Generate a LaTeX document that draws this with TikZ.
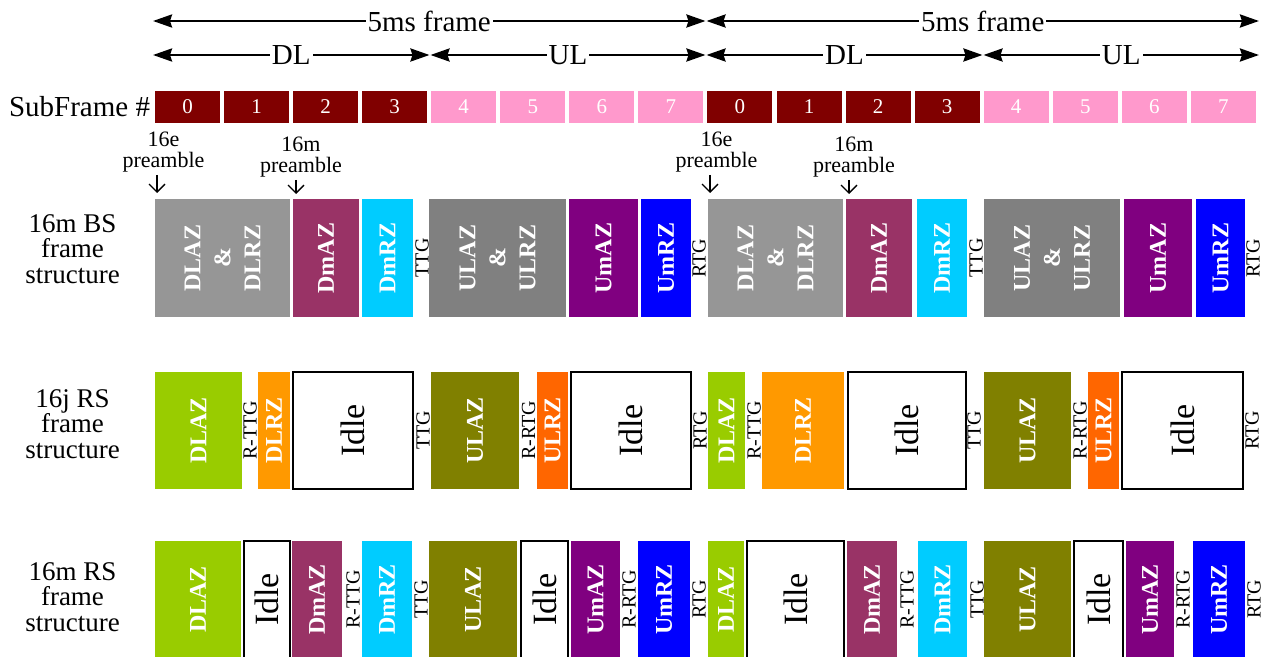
\documentclass[tikz,border=0pt]{standalone}
\usepackage{fontspec}
\setmainfont{Liberation Serif}
\usetikzlibrary{arrows.meta}
\definecolor{sfdl}{HTML}{800000}
\definecolor{sful}{HTML}{FF99CC}
\definecolor{gA}{HTML}{969696}
\definecolor{gB}{HTML}{808080}
\definecolor{dmaz}{HTML}{993366}
\definecolor{dmrz}{HTML}{00CCFF}
\definecolor{umaz}{HTML}{800080}
\definecolor{umrz}{HTML}{0000FF}
\definecolor{dlaz}{HTML}{99CC00}
\definecolor{dlrz}{HTML}{FF9900}
\definecolor{ulaz}{HTML}{808000}
\definecolor{ulrz}{HTML}{FF6600}
% name x1 x2 y1 y2 boxstyle textstyle text
\newcommand\zoneblk[8]{%
  \node[#6, minimum width={(#3-#2)*1bp}, minimum height={(#5-#4)*1bp}] (#1) at ({(#2+#3)/2},{(#4+#5)/2}) {};
  \node[#7] (#1t) at (#1.center) {#8};}
\newcommand\gaplbl[4]{\node[gtxt] (#1) at (#2,#3) {#4};}
\begin{document}
\begin{tikzpicture}[x=1bp,y=-1bp,
  every node/.style={inner sep=0pt, outer sep=0pt},
  big/.style={font=\fontsize{29bp}{31bp}\selectfont},
  dim/.style={line width=2.6bp, {Stealth[length=19bp,width=13bp,inset=2bp]}-{Stealth[length=19bp,width=13bp,inset=2bp]}},
  dimlbl/.style={big, fill=white, inner xsep=2bp, inner ysep=1bp},
  sfbox/.style={minimum width=65bp, minimum height=32bp, text=white, font=\fontsize{21bp}{22bp}\selectfont},
  pre/.style={align=center, font=\fontsize{22bp}{21bp}\selectfont},
  prearr/.style={line width=1.3bp, -{Straight Barb[length=8bp,width=16bp]}},
  rowlbl/.style={align=center, font=\fontsize{27bp}{25.5bp}\selectfont},
  idle/.style={draw=black, line width=1.1bp, fill=white},
  ztxt/.style={rotate=90, text=white, font=\bfseries\fontsize{24bp}{30bp}\selectfont, align=center},
  itxt/.style={rotate=90, text=black, font=\fontsize{34bp}{36bp}\selectfont},
  gtxt/.style={rotate=90, font=\fontsize{20bp}{21bp}\selectfont},
]
\useasboundingbox (0,0) rectangle (1281,657);

% dimension arrows
\coordinate (fA) at (153,21); \coordinate (fB) at (705.5,21);
\coordinate (fC) at (706.5,21); \coordinate (fD) at (1259,21);
\draw[dim] (fA) -- node[dimlbl] (lf1) {5ms frame} (fB);
\draw[dim] (fC) -- node[dimlbl] (lf2) {5ms frame} (fD);
\coordinate (dA) at (153,55); \coordinate (dB) at (429.5,55);
\coordinate (uA) at (430.5,55); \coordinate (uB) at (705.5,55);
\coordinate (dC) at (706.5,55); \coordinate (dD) at (982.5,55);
\coordinate (uC) at (983.5,55); \coordinate (uD) at (1259,55);
\draw[dim] (dA) -- node[dimlbl] (ldl1) {DL} (dB);
\draw[dim] (uA) -- node[dimlbl] (lul1) {UL} (uB);
\draw[dim] (dC) -- node[dimlbl] (ldl2) {DL} (dD);
\draw[dim] (uC) -- node[dimlbl] (lul2) {UL} (uD);

% subframes
\node[big, anchor=east] (sflbl) at (150,107) {SubFrame \#};
\foreach \i in {0,...,15}{
  \pgfmathtruncatemacro\n{mod(\i,8)}
  \pgfmathsetmacro\cx{187.5+69.06*\i}
  \ifnum\n<4 \def\sfc{sfdl}\else\def\sfc{sful}\fi
  \node[sfbox, fill=\sfc] (sf\i) at (\cx,107) {\n};
}

% preambles
\node[pre] (p1) at (163.5,152) {16e\\preamble};
\node[pre] (p2) at (301,157) {16m\\preamble};
\node[pre] (p3) at (716.5,152) {16e\\preamble};
\node[pre] (p4) at (854,157) {16m\\preamble};
\coordinate (p1a) at (157,175); \coordinate (p1b) at (157,193);
\coordinate (p2a) at (296,180); \coordinate (p2b) at (296,194);
\coordinate (p3a) at (710,175); \coordinate (p3b) at (710,193);
\coordinate (p4a) at (849,180); \coordinate (p4b) at (849,194);
\draw[prearr] (p1a) -- (p1b);
\draw[prearr] (p2a) -- (p2b);
\draw[prearr] (p3a) -- (p3b);
\draw[prearr] (p4a) -- (p4b);

% row labels
\node[rowlbl] (lbs) at (72.5,249) {16m BS\\frame\\structure};
\node[rowlbl] (lrj) at (72.5,424) {16j RS\\frame\\structure};
\node[rowlbl] (lrm) at (72.5,597) {16m RS\\frame\\structure};

% 16m BS
\zoneblk{bs1}{155}{290}{199}{317}{fill=gA}{ztxt}{DLAZ\\\&\\DLRZ}
\zoneblk{bs2}{293}{359}{199}{317}{fill=dmaz}{ztxt}{DmAZ}
\zoneblk{bs3}{362}{413}{199}{317}{fill=dmrz}{ztxt}{DmRZ}
\gaplbl{bsg1}{422}{258}{TTG}
\zoneblk{bs4}{429}{566}{199}{317}{fill=gB}{ztxt}{ULAZ\\\&\\ULRZ}
\zoneblk{bs5}{569}{638}{199}{317}{fill=umaz}{ztxt}{UmAZ}
\zoneblk{bs6}{641}{691}{199}{317}{fill=umrz}{ztxt}{UmRZ}
\gaplbl{bsg2}{699}{258}{RTG}
\zoneblk{bs7}{708}{843}{199}{317}{fill=gA}{ztxt}{DLAZ\\\&\\DLRZ}
\zoneblk{bs8}{846}{912}{199}{317}{fill=dmaz}{ztxt}{DmAZ}
\zoneblk{bs9}{917}{967}{199}{317}{fill=dmrz}{ztxt}{DmRZ}
\gaplbl{bsg3}{976}{258}{TTG}
\zoneblk{bs10}{984}{1120}{199}{317}{fill=gB}{ztxt}{ULAZ\\\&\\ULRZ}
\zoneblk{bs11}{1124}{1192}{199}{317}{fill=umaz}{ztxt}{UmAZ}
\zoneblk{bs12}{1196}{1245}{199}{317}{fill=umrz}{ztxt}{UmRZ}
\gaplbl{bsg4}{1253}{258}{RTG}

% 16j RS
\zoneblk{rj1}{155}{242}{372}{489}{fill=dlaz}{ztxt}{DLAZ}
\gaplbl{rjg1}{250}{430.5}{R-TTG}
\zoneblk{rj2}{258}{290}{372}{489}{fill=dlrz}{ztxt}{DLRZ}
\zoneblk{rj3}{293}{413}{372}{489}{idle}{itxt}{Idle}
\gaplbl{rjg2}{423}{430.5}{TTG}
\zoneblk{rj4}{431}{519}{372}{489}{fill=ulaz}{ztxt}{ULAZ}
\gaplbl{rjg3}{528.5}{430.5}{R-RTG}
\zoneblk{rj5}{537}{568}{372}{489}{fill=ulrz}{ztxt}{ULRZ}
\zoneblk{rj6}{571}{691}{372}{489}{idle}{itxt}{Idle}
\gaplbl{rjg4}{700}{430.5}{RTG}
\zoneblk{rj7}{708}{745}{372}{489}{fill=dlaz}{ztxt}{DLAZ}
\gaplbl{rjg5}{754}{430.5}{R-TTG}
\zoneblk{rj8}{762}{844}{372}{489}{fill=dlrz}{ztxt}{DLRZ}
\zoneblk{rj9}{848}{966}{372}{489}{idle}{itxt}{Idle}
\gaplbl{rjg6}{974}{430.5}{TTG}
\zoneblk{rj10}{984}{1071}{372}{489}{fill=ulaz}{ztxt}{ULAZ}
\gaplbl{rjg7}{1080}{430.5}{R-RTG}
\zoneblk{rj11}{1088}{1119}{372}{489}{fill=ulrz}{ztxt}{ULRZ}
\zoneblk{rj12}{1122}{1243}{372}{489}{idle}{itxt}{Idle}
\gaplbl{rjg8}{1252}{430.5}{RTG}

% 16m RS
\zoneblk{rm1}{155}{241}{541}{658}{fill=dlaz}{ztxt}{DLAZ}
\zoneblk{rm2}{244}{290}{541}{658}{idle}{itxt}{Idle}
\zoneblk{rm3}{292}{342}{541}{658}{fill=dmaz}{ztxt}{DmAZ}
\gaplbl{rmg1}{353}{599}{R-TTG}
\zoneblk{rm4}{362}{412}{541}{658}{fill=dmrz}{ztxt}{DmRZ}
\gaplbl{rmg2}{421}{599}{TTG}
\zoneblk{rm5}{429}{517}{541}{658}{fill=ulaz}{ztxt}{ULAZ}
\zoneblk{rm6}{521}{568}{541}{658}{idle}{itxt}{Idle}
\zoneblk{rm7}{571}{620}{541}{658}{fill=umaz}{ztxt}{UmAZ}
\gaplbl{rmg3}{629}{599}{R-RTG}
\zoneblk{rm8}{638}{690}{541}{658}{fill=umrz}{ztxt}{UmRZ}
\gaplbl{rmg4}{699}{599}{RTG}
\zoneblk{rm9}{708}{744}{541}{658}{fill=dlaz}{ztxt}{DLAZ}
\zoneblk{rm10}{747}{844}{541}{658}{idle}{itxt}{Idle}
\zoneblk{rm11}{847}{897}{541}{658}{fill=dmaz}{ztxt}{DmAZ}
\gaplbl{rmg5}{907}{599}{R-TTG}
\zoneblk{rm12}{918}{967}{541}{658}{fill=dmrz}{ztxt}{DmRZ}
\gaplbl{rmg6}{977}{599}{TTG}
\zoneblk{rm13}{984}{1071}{541}{658}{fill=ulaz}{ztxt}{ULAZ}
\zoneblk{rm14}{1074}{1123}{541}{658}{idle}{itxt}{Idle}
\zoneblk{rm15}{1126}{1174}{541}{658}{fill=umaz}{ztxt}{UmAZ}
\gaplbl{rmg7}{1183}{599}{R-RTG}
\zoneblk{rm16}{1193}{1245}{541}{658}{fill=umrz}{ztxt}{UmRZ}
\gaplbl{rmg8}{1254}{599}{RTG}
\end{tikzpicture}
\end{document}
